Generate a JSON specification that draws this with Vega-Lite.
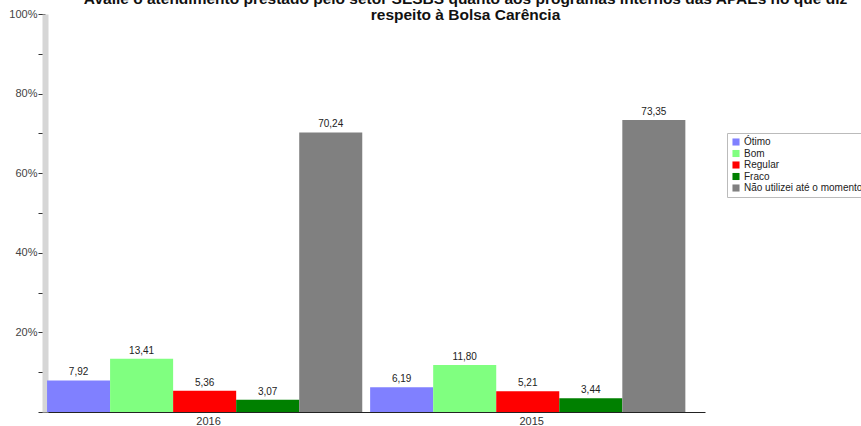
{
  "$schema": "https://vega.github.io/schema/vega-lite/v6.json",
  "autosize": {"type": "none"},
  "padding": {"left": 42, "top": 14, "right": 156, "bottom": 14},
  "width": 663,
  "height": 398,
  "background": "white",
  "title": {
    "text": ["Avalie o atendimento prestado pelo setor SESBS quanto aos programas internos das APAEs no que diz", "respeito à Bolsa Carência"],
    "fontSize": 15.5,
    "font": "Liberation Sans",
    "fontWeight": "bold",
    "color": "#111111",
    "lineHeight": 16,
    "anchor": "middle",
    "frame": "group",
    "offset": -15,
    "dx": 92
  },
  "data": {
    "values": [
      {"ano": "2016", "cat": "Ótimo", "v": 7.92},
      {"ano": "2016", "cat": "Bom", "v": 13.41},
      {"ano": "2016", "cat": "Regular", "v": 5.36},
      {"ano": "2016", "cat": "Fraco", "v": 3.07},
      {"ano": "2016", "cat": "Não utilizei até o momento", "v": 70.24},
      {"ano": "2015", "cat": "Ótimo", "v": 6.19},
      {"ano": "2015", "cat": "Bom", "v": 11.80},
      {"ano": "2015", "cat": "Regular", "v": 5.21},
      {"ano": "2015", "cat": "Fraco", "v": 3.44},
      {"ano": "2015", "cat": "Não utilizei até o momento", "v": 73.35}
    ]
  },
  "encoding": {
    "x": {
      "field": "ano", "type": "nominal", "sort": ["2016", "2015"],
      "scale": {"paddingInner": 0, "paddingOuter": 0.026, "align": 0.3},
      "axis": {"title": null, "labelAngle": 0, "ticks": false, "labelPadding": 3, "labelFontSize": 11, "labelFont": "Liberation Sans", "labelColor": "#333333", "domainColor": "#222222"}
    },
    "xOffset": {
      "field": "cat", "type": "nominal",
      "sort": ["Ótimo", "Bom", "Regular", "Fraco", "Não utilizei até o momento"],
      "scale": {"paddingInner": 0, "paddingOuter": 0.0625, "align": 0}
    },
    "y": {
      "field": "v", "type": "quantitative",
      "scale": {"domain": [0, 100], "nice": false},
      "axis": {
        "title": null,
        "values": [0, 10, 20, 30, 40, 50, 60, 70, 80, 90, 100],
        "labelExpr": "datum.value % 20 == 0 && datum.value > 0 ? datum.value + '%' : ''",
        "grid": false,
        "domainColor": "#d6d6d6",
        "domainWidth": 6,
        "offset": -3,
        "tickSize": 7,
        "tickColor": "#333333",
        "labelPadding": 1,
        "labelFontSize": 11,
        "labelFont": "Liberation Sans",
        "labelColor": "#444444"
      }
    }
  },
  "layer": [
    {
      "mark": {"type": "bar", "stroke": null},
      "encoding": {
        "color": {
          "field": "cat", "type": "nominal",
          "scale": {
            "domain": ["Ótimo", "Bom", "Regular", "Fraco", "Não utilizei até o momento"],
            "range": ["#8080ff", "#80ff80", "#ff0000", "#008000", "#808080"]
          },
          "legend": {
            "title": null,
            "orient": "none",
            "legendX": 685,
            "legendY": 119,
            "symbolType": "square",
            "symbolSize": 50,
            "symbolStrokeWidth": 0,
            "labelFontSize": 10,
            "labelFont": "Liberation Sans",
            "labelColor": "#222222",
            "rowPadding": 1.5,
            "labelOffset": 3,
            "strokeColor": "#bbbbbb",
            "padding": 4,
            "fillColor": "white"
          }
        }
      }
    },
    {
      "mark": {"type": "text", "dy": -8, "fontSize": 10, "font": "Liberation Sans", "color": "#222222"},
      "encoding": {
        "text": {"field": "v", "type": "quantitative", "format": ".2f"}
      }
    }
  ],
  "config": {
    "view": {"stroke": null},
    "locale": {"number": {"decimal": ",", "thousands": ".", "grouping": [3], "currency": ["", ""]}}
  }
}
